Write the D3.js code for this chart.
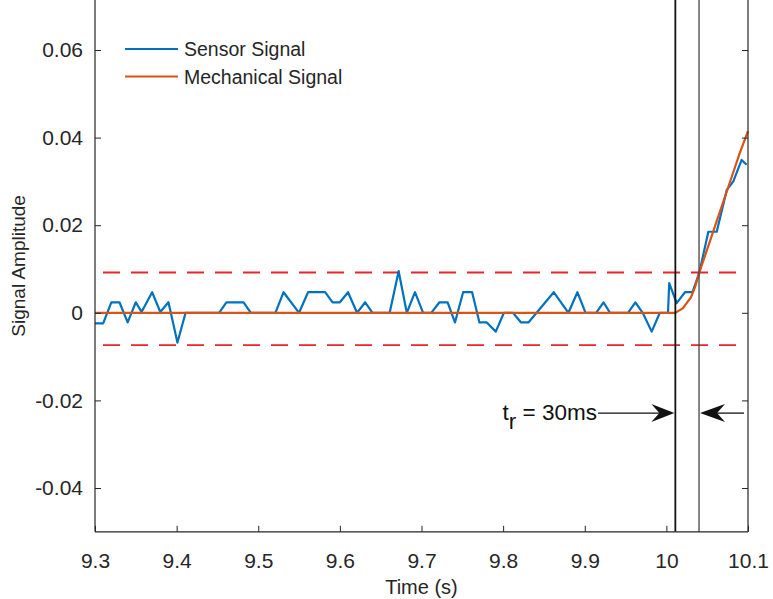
<!DOCTYPE html>
<html>
<head>
<meta charset="utf-8">
<script src="https://cdn.jsdelivr.net/npm/d3@7"></script>
<style>
  html, body { margin: 0; padding: 0; background: #fff; }
  svg { display: block; font-family: "Liberation Sans", Arial, Helvetica, sans-serif; }
</style>
</head>
<body>
<svg id="chart" width="773" height="599"></svg>
<script>
// ---- data ----
const sensorTime = [9.300, 9.310, 9.320, 9.330, 9.340, 9.350, 9.357, 9.370, 9.380, 9.390, 9.401, 9.411,
  9.452, 9.461, 9.482, 9.491, 9.521, 9.531, 9.550, 9.561, 9.582, 9.591, 9.600, 9.610, 9.621, 9.631, 9.640,
  9.661, 9.672, 9.682, 9.692, 9.702, 9.712, 9.722, 9.732, 9.741, 9.751, 9.762, 9.771, 9.780, 9.791, 9.801,
  9.812, 9.822, 9.831, 9.841, 9.862, 9.880, 9.891, 9.901, 9.914, 9.923, 9.931, 9.953, 9.962, 9.971, 9.982,
  9.992, 10.002, 10.0035, 10.0126, 10.0228, 10.032, 10.0403, 10.0514, 10.0617, 10.0739, 10.082, 10.0922, 10.0983];
const sensorValue = [-0.0024, -0.0024, 0.0024, 0.0024, -0.0022, 0.0024, 0.0002, 0.0047, 0.0002, 0.0024, -0.0068, 0,
  0, 0.0024, 0.0024, 0, 0, 0.0047, 0, 0.0047, 0.0047, 0.0024, 0.0024, 0.0047, 0, 0.0024, 0,
  0, 0.0095, 0, 0.0047, 0, 0, 0.0024, 0.0024, -0.0022, 0.0047, 0.0047, -0.0022, -0.0022, -0.0043, 0,
  0, -0.0022, -0.0022, 0, 0.0047, 0, 0.0047, 0, 0, 0.0024, 0, 0, 0.0024, 0, -0.0043,
  0, 0, 0.0068, 0.0022, 0.0047, 0.0047, 0.0091, 0.0185, 0.0185, 0.028, 0.030, 0.0349, 0.0338];

const mechTime  = [9.300, 10.011, 10.020, 10.030, 10.035, 10.040, 10.050, 10.060, 10.070, 10.080, 10.090, 10.100];
const mechValue = [0, 0, 0.0010, 0.0035, 0.0058, 0.0090, 0.0145, 0.0200, 0.0255, 0.0310, 0.0365, 0.0415];

const thresholds = [0.0092, -0.0074];
const markerTimes = [10.011, 10.040];
const xTicks = [9.3, 9.4, 9.5, 9.6, 9.7, 9.8, 9.9, 10, 10.1];
const yTicks = [-0.04, -0.02, 0, 0.02, 0.04, 0.06];
const seriesNames = ["Sensor Signal", "Mechanical Signal"];
const seriesColors = ["#0072BD", "#D95319"];
const annotationValue = -0.0229;
const annotationLabel = { main: "t", sub: "r", rest: " = 30ms" };

(function () {
// ---- layout ----
const svg = d3.select("#chart");
const pL = 95, pR = 748, pB = 531.8, pT = 0;
const x = d3.scaleLinear().domain([9.3, 10.1]).range([pL, pR]);
const y = d3.scaleLinear().domain([-0.05, 0.06]).range([pB, 50]);
const axisColor = "#262626";
const tickFont = 21;

// thresholds (dashed red)
svg.selectAll("line.thr").data(thresholds).enter().append("line")
  .attr("class", "thr")
  .attr("x1", pL).attr("x2", pR - 5)
  .attr("y1", d => y(d)).attr("y2", d => y(d))
  .attr("stroke", "#E8252B").attr("stroke-width", 1.8)
  .attr("stroke-dasharray", "17,11").attr("stroke-dashoffset", -8);

// series
const line = d3.line().x(d => x(d[0])).y(d => y(d[1]));
const sensor = sensorTime.map((t, i) => [t, sensorValue[i]]);
const mech = mechTime.map((t, i) => [t, mechValue[i]]);
svg.append("path").datum(sensor).attr("d", line)
  .attr("fill", "none").attr("stroke", seriesColors[0]).attr("stroke-width", 2.2).attr("stroke-linejoin", "round");
svg.append("path").datum(mech).attr("d", line)
  .attr("fill", "none").attr("stroke", seriesColors[1]).attr("stroke-width", 2.2).attr("stroke-linejoin", "round");

// vertical markers
svg.selectAll("line.mk").data(markerTimes).enter().append("line")
  .attr("class", "mk")
  .attr("x1", d => x(d)).attr("x2", d => x(d))
  .attr("y1", pT).attr("y2", pB)
  .attr("stroke", (d, i) => i === 0 ? "#111" : "#444")
  .attr("stroke-width", (d, i) => i === 0 ? 1.8 : 1.3);

// axes
const gx = svg.append("g").attr("transform", `translate(0,${pB})`)
  .call(d3.axisBottom(x).tickValues(xTicks).tickSize(-6).tickPadding(21).tickFormat(d => String(+d.toFixed(1))));
const gy = svg.append("g").attr("transform", `translate(${pL},0)`)
  .call(d3.axisLeft(y).tickValues(yTicks).tickSize(-6).tickPadding(12).tickFormat(d => d === 0 ? "0" : d3.format(".2f")(d).replace("\u2212", "-")));
const gr = svg.append("g").attr("transform", `translate(${pR},0)`)
  .call(d3.axisRight(y).tickValues(yTicks).tickSize(-6).tickFormat(""));
[gx, gy, gr].forEach(g => {
  g.select(".domain").remove();
  g.selectAll(".tick line").attr("stroke", axisColor);
  g.selectAll(".tick text").attr("fill", axisColor).attr("font-size", tickFont)
    .attr("font-family", "'Liberation Sans', Arial, sans-serif");
});
svg.append("line").attr("x1", pL).attr("x2", pL).attr("y1", pT).attr("y2", pB).attr("stroke", axisColor).attr("stroke-width", 1.2);
svg.append("line").attr("x1", pR).attr("x2", pR).attr("y1", pT).attr("y2", pB).attr("stroke", axisColor).attr("stroke-width", 1.2);
svg.append("line").attr("x1", pL).attr("x2", pR).attr("y1", pB).attr("y2", pB).attr("stroke", axisColor).attr("stroke-width", 1.2);

// axis labels
svg.append("text").attr("x", (pL + pR) / 2).attr("y", 594).attr("text-anchor", "middle")
  .attr("font-size", 20).attr("fill", axisColor).text("Time (s)");
svg.append("text").attr("transform", `translate(25,${(pT + pB) / 2}) rotate(-90)`).attr("text-anchor", "middle")
  .attr("font-size", 19).attr("fill", axisColor).text("Signal Amplitude");

// legend
const legend = svg.append("g");
seriesNames.forEach((name, i) => {
  const ly = 49 + i * 27.5;
  legend.append("line").attr("x1", 125).attr("x2", 178).attr("y1", ly).attr("y2", ly)
    .attr("stroke", seriesColors[i]).attr("stroke-width", 2);
  legend.append("text").attr("x", 184).attr("y", ly + 7).attr("font-size", 19.5)
    .attr("fill", axisColor).text(name);
});

// annotation
const ay = y(annotationValue);
const x1 = x(markerTimes[0]), x2 = x(markerTimes[1]);
const txt = svg.append("text").attr("x", 597).attr("y", ay + 7).attr("text-anchor", "end")
  .attr("font-size", 22.5).attr("fill", "#111");
txt.append("tspan").text(annotationLabel.main);
txt.append("tspan").attr("dy", 9).text(annotationLabel.sub);
txt.append("tspan").attr("dy", -9).text(annotationLabel.rest);

svg.append("line").attr("x1", 598).attr("x2", x1 - 15).attr("y1", ay).attr("y2", ay).attr("stroke", "#111").attr("stroke-width", 1.3);
svg.append("path").attr("d", `M${x1 - 1},${ay} L${x1 - 24},${ay - 9} L${x1 - 16},${ay} L${x1 - 24},${ay + 9} Z`).attr("fill", "#111");
svg.append("line").attr("x1", x2 + 16).attr("x2", pR - 4).attr("y1", ay).attr("y2", ay).attr("stroke", "#111").attr("stroke-width", 1.3);
svg.append("path").attr("d", `M${x2 + 1},${ay} L${x2 + 26},${ay - 9} L${x2 + 18},${ay} L${x2 + 26},${ay + 9} Z`).attr("fill", "#111");
})();
</script>
</body>
</html>
